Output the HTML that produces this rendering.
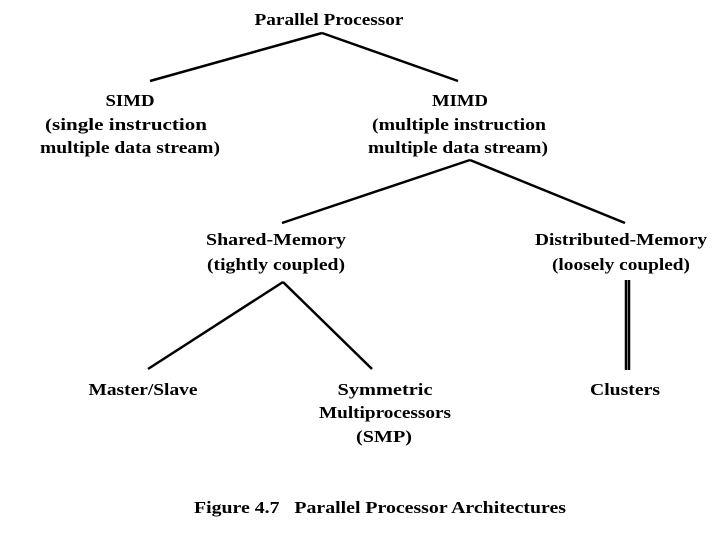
<!DOCTYPE html>
<html><head><meta charset="utf-8"><style>
html,body{margin:0;padding:0;background:#fff;}
svg{display:block;}
text{font-family:"Liberation Serif",serif;font-weight:bold;font-size:17px;fill:#000;text-anchor:middle;}
</style></head><body>
<svg width="720" height="540" viewBox="0 0 720 540">
<g stroke="#000" stroke-width="2.5" fill="none">
<line x1="322" y1="33" x2="150" y2="81"/>
<line x1="322" y1="33" x2="458" y2="81"/>
<line x1="470" y1="160" x2="282" y2="223"/>
<line x1="470" y1="160" x2="625" y2="223"/>
<line x1="283" y1="282" x2="148" y2="369"/>
<line x1="283" y1="282" x2="372" y2="369"/>
<line x1="626" y1="280" x2="626" y2="370"/>
<line x1="629" y1="280" x2="629" y2="370"/>
</g>
<text x="329" y="25" textLength="149" lengthAdjust="spacingAndGlyphs">Parallel Processor</text>
<text x="130" y="106" textLength="49" lengthAdjust="spacingAndGlyphs">SIMD</text>
<text x="126" y="130" textLength="162" lengthAdjust="spacingAndGlyphs">(single instruction</text>
<text x="130" y="153" textLength="180" lengthAdjust="spacingAndGlyphs">multiple data stream)</text>
<text x="460" y="106" textLength="56" lengthAdjust="spacingAndGlyphs">MIMD</text>
<text x="459" y="130" textLength="174" lengthAdjust="spacingAndGlyphs">(multiple instruction</text>
<text x="458" y="153" textLength="180" lengthAdjust="spacingAndGlyphs">multiple data stream)</text>
<text x="276" y="245" textLength="140" lengthAdjust="spacingAndGlyphs">Shared-Memory</text>
<text x="276" y="270" textLength="138" lengthAdjust="spacingAndGlyphs">(tightly coupled)</text>
<text x="621" y="245" textLength="172" lengthAdjust="spacingAndGlyphs">Distributed-Memory</text>
<text x="621" y="270" textLength="138" lengthAdjust="spacingAndGlyphs">(loosely coupled)</text>
<text x="143" y="395" textLength="109" lengthAdjust="spacingAndGlyphs">Master/Slave</text>
<text x="385" y="395" textLength="95" lengthAdjust="spacingAndGlyphs">Symmetric</text>
<text x="385" y="418" textLength="132" lengthAdjust="spacingAndGlyphs">Multiprocessors</text>
<text x="384" y="442" textLength="56" lengthAdjust="spacingAndGlyphs">(SMP)</text>
<text x="625" y="395" textLength="70" lengthAdjust="spacingAndGlyphs">Clusters</text>
<text x="380" y="513" textLength="372" lengthAdjust="spacingAndGlyphs" xml:space="preserve">Figure 4.7   Parallel Processor Architectures</text>
</svg>
</body></html>
